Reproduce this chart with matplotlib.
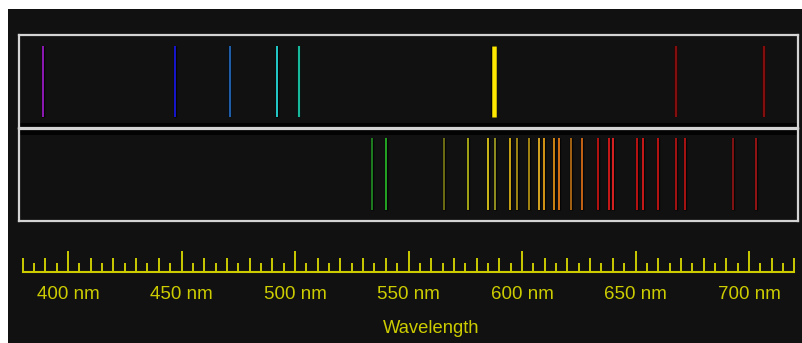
import numpy as np
import matplotlib
matplotlib.use("Agg")
import matplotlib.pyplot as plt
import matplotlib.patheffects as pe

# helium lines (top panel), nm
he_nm = [388.9, 447.1, 471.3, 492.2, 501.6, 587.6, 667.8, 706.5]
he_colors = ['#8a18b0', '#1616c8', '#1f5ea6', '#22c4c4', '#18b89c',
             '#ffe800', '#820e0e', '#820e0e']
he_widths = [2, 2, 2.2, 2, 2.2, 4.5, 2.5, 2.5]   # px

# neon lines (bottom panel), nm
ne_nm = [534.1, 540.1, 565.6, 576.3, 585.2, 588.2, 594.5, 597.6, 603.0,
         607.4, 609.6, 614.3, 616.4, 621.7, 626.6, 633.4, 638.3, 640.2,
         650.6, 653.3, 659.9, 667.8, 671.7, 692.9, 703.2]
ne_colors = ['#1e781e', '#22a022', '#6a6a12', '#a0a014', '#c8b414', '#8e8a1e',
             '#c4a012', '#9a8212', '#a08212', '#d0a020', '#d09014', '#c88012',
             '#d07012', '#a06012', '#c06014', '#b01212', '#c41818', '#d42020',
             '#b41212', '#c41818', '#b41212', '#a01212', '#a41212', '#7e1212',
             '#901212']

tick_labels_nm = [400, 450, 500, 550, 600, 650, 700]
ruler_start, ruler_end = 380, 720

W, H = 802, 343
BG = '#111111'
YEL = '#cccc00'
FRAME = '#d4d4d4'


def px_to_nm(px):
    # 400 nm sits at x=68 px, 2.27 px per nm
    return 400 + (px - 68) / 2.27


def box(x0, y0, x1, y1):
    """pixel box (top-left origin) -> figure fraction rect"""
    return [x0 / W, 1 - y1 / H, (x1 - x0) / W, (y1 - y0) / H]


fig = plt.figure(figsize=(W / 100, H / 100), dpi=100)
fig.patch.set_facecolor('white')

bg = fig.add_axes(box(8, 9, W, H))
bg.set_facecolor(BG)
bg.set_xticks([])
bg.set_yticks([])
for s in bg.spines.values():
    s.set_visible(False)


def spectrum_panel(rect, nm, colors, widths, y_lo, y_hi, band):
    ax = fig.add_axes(rect)
    ax.set_facecolor(BG)
    ax.set_xlim(px_to_nm(19), px_to_nm(798))
    ax.set_ylim(0, 1)
    ax.set_xticks([])
    ax.set_yticks([])
    for s in ax.spines.values():
        s.set_color(FRAME)
        s.set_linewidth(1.6)
    ax.axhspan(band[0], band[1], color='#030303', lw=0)
    for x, c, w in zip(nm, colors, widths):
        lw = w * 0.72
        ax.vlines(x, y_lo, y_hi, color=c, lw=lw,
                  path_effects=[pe.Stroke(linewidth=lw + 1.0, foreground='#050505'),
                                pe.Normal()])
    return ax


# top panel: 35..127 px, lines from 46 to 117 px
spectrum_panel(box(19, 35, 798, 127.5), he_nm, he_colors, he_widths,
               (127.5 - 117) / 92.5, (127.5 - 46) / 92.5, (0, 0.05))
# bottom panel: 129..221 px, lines from 138 to 210 px
spectrum_panel(box(19, 129, 798, 221), ne_nm, ne_colors, [2] * len(ne_nm),
               (221 - 210) / 92, (221 - 138) / 92, (0.93, 1.0))

# ruler
rul = fig.add_axes(box(0, 246.7, W, 271.7))
rul.set_xlim(px_to_nm(0), px_to_nm(W))
rul.set_ylim(0, 25)
rul.patch.set_visible(False)
for k in ['top', 'left', 'right']:
    rul.spines[k].set_visible(False)
rul.spines['bottom'].set_color(YEL)
rul.spines['bottom'].set_linewidth(1.5)
rul.spines['bottom'].set_bounds(ruler_start, ruler_end)

ticks = np.arange(ruler_start, ruler_end + 1, 5)
heights = np.where(ticks % 50 == 0, 21, np.where(ticks % 10 == 0, 13.7, 9))
rul.vlines(ticks, 0, heights, color=YEL, lw=1.4)

rul.set_yticks([])
rul.set_xticks(tick_labels_nm)
rul.set_xticklabels([f'{v} nm' for v in tick_labels_nm])
rul.tick_params(axis='x', length=0, pad=10, labelcolor=YEL, labelsize=13.5)
for t in rul.get_xticklabels():
    t.set_fontfamily('Liberation Sans')
    t.set_x(t.get_position()[0] + 1)

rul.set_xlabel('Wavelength', color=YEL, fontsize=13.2, fontfamily='Liberation Sans')
rul.xaxis.label.set_va('center')
rul.xaxis.set_label_coords(431 / W, -(328.5 - 271.7) / 25)

fig.savefig('out.png', dpi=100, facecolor=fig.get_facecolor())
